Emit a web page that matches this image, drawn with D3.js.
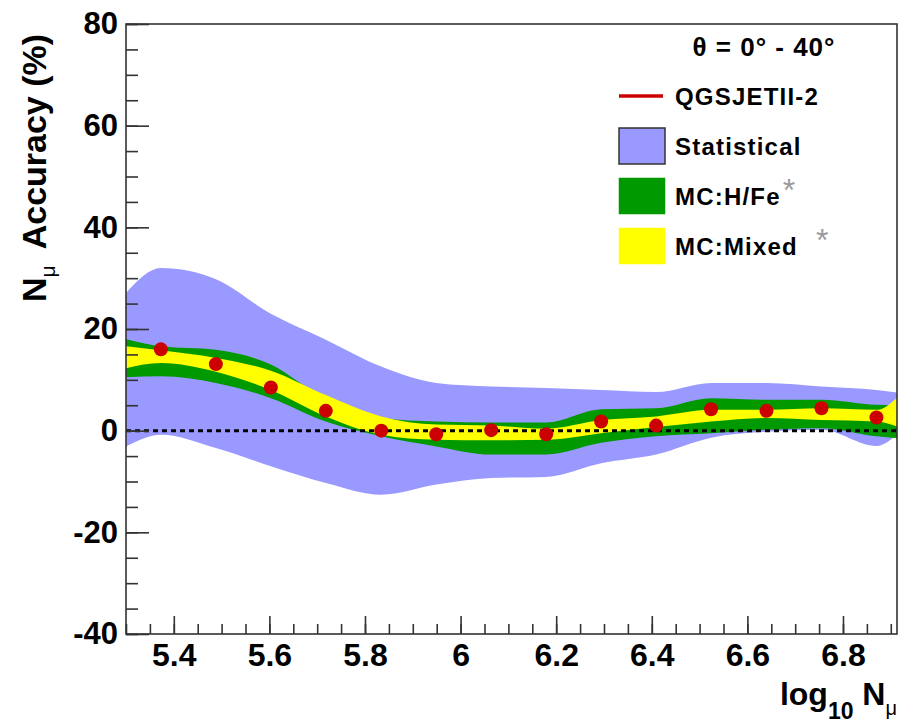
<!DOCTYPE html>
<html>
<head>
<meta charset="utf-8">
<script src="https://cdn.jsdelivr.net/npm/d3@7.9.0/dist/d3.min.js"></script>
<style>
  body { margin: 0; background: #fff; }
  svg { display: block; font-family: "Liberation Sans", Arial, sans-serif; font-weight: bold; }
</style>
</head>
<body>
<svg id="chart" width="898" height="727"></svg>
<script>
// log10 N_mu bin centres of the QGSJETII-2 points
const binX = [5.373, 5.488, 5.603, 5.718, 5.834, 5.949, 6.064, 6.179, 6.294, 6.409, 6.524, 6.640, 6.755, 6.870];
const accuracy = [16.0, 13.1, 8.5, 3.9, 0.0, -0.7, 0.1, -0.7, 1.8, 1.0, 4.2, 3.9, 4.4, 2.6];

// band nodes: plot edges plus the bin centres
const bandX = [5.3, 5.373, 5.488, 5.603, 5.718, 5.834, 5.949, 6.064, 6.179, 6.294, 6.409, 6.524, 6.640, 6.755, 6.870, 6.913];
const statHigh = [27.1, 32.0, 29.8, 23.0, 17.9, 12.6, 9.4, 8.7, 8.4, 8.0, 7.6, 9.4, 9.4, 8.7, 8.0, 7.5];
const statLow = [-3.1, -0.8, -3.4, -7.0, -10.3, -12.6, -10.6, -9.3, -9.1, -6.4, -4.7, -1.4, -0.2, 0.2, -3.0, -0.8];
const hfeHigh = [18.0, 16.6, 15.9, 13.0, 6.1, 2.5, 1.8, 1.6, 1.6, 4.2, 4.4, 6.4, 6.1, 6.1, 5.1, 5.0];
const hfeLow = [10.5, 10.7, 9.4, 6.4, 1.8, -1.1, -3.1, -4.7, -4.7, -2.4, -1.1, -0.5, 0.2, 0.5, -1.1, -1.5];
const mixHigh = [16.6, 15.8, 14.3, 11.8, 7.0, 2.8, 1.2, 1.0, 0.4, 2.1, 2.8, 4.1, 4.1, 4.4, 4.1, 6.5];
const mixLow = [12.3, 13.3, 11.6, 8.0, 2.8, -0.8, -1.8, -1.9, -1.8, -0.5, 0.7, 1.8, 2.5, 2.1, 1.8, 0.8];

const xMajor = [5.4, 5.6, 5.8, 6.0, 6.2, 6.4, 6.6, 6.8];
const yMajor = [-40, -20, 0, 20, 40, 60, 80];

const legendItems = [
  { label: 'QGSJETII-2', kind: 'line', color: '#cc0000' },
  { label: 'Statistical', kind: 'box', color: '#9999ff', stroke: '#333' },
  { label: 'MC:H/Fe', kind: 'box', color: '#009900', star: 2 },
  { label: 'MC:Mixed', kind: 'box', color: '#ffff00', star: 18 }
];

const svg = d3.select('#chart');
const plot = { left: 126, right: 897, top: 24, bottom: 634 };

const x = d3.scaleLinear().domain([5.3, 6.913]).range([plot.left, plot.right]);
const y = d3.scaleLinear().domain([-40, 80]).range([plot.bottom, plot.top]);

function band(high, low, color) {
  const pts = bandX.map((v, i) => ({ x: v, hi: high[i], lo: low[i] }));
  const area = d3.area()
    .x((d) => x(d.x))
    .y0((d) => y(d.lo))
    .y1((d) => y(d.hi))
    .curve(d3.curveMonotoneX);
  svg.append('path').attr('d', area(pts)).attr('fill', color);
}

band(statHigh, statLow, '#9999ff');
band(hfeHigh, hfeLow, '#009900');
band(mixHigh, mixLow, '#ffff00');

// zero reference
svg.append('line')
  .attr('x1', x(5.3)).attr('x2', x(6.913))
  .attr('y1', y(0)).attr('y2', y(0))
  .attr('stroke', '#000')
  .attr('stroke-width', 3)
  .attr('stroke-dasharray', '5,4');

svg.append('g')
  .selectAll('circle')
  .data(binX)
  .join('circle')
  .attr('cx', (d) => x(d))
  .attr('cy', (d, i) => y(accuracy[i]))
  .attr('r', 7)
  .attr('fill', '#cc0000');

// frame
svg.append('rect')
  .attr('x', plot.left).attr('y', plot.top)
  .attr('width', plot.right - plot.left).attr('height', plot.bottom - plot.top)
  .attr('fill', 'none')
  .attr('stroke', '#333')
  .attr('stroke-width', 1.6);

// minor ticks
svg.append('g')
  .attr('transform', `translate(${plot.left},0)`)
  .call(d3.axisLeft(y).tickValues(d3.range(-40, 81, 5)).tickSize(-12).tickFormat(''))
  .call((g) => g.select('.domain').remove());
svg.append('g')
  .attr('transform', `translate(0,${plot.bottom})`)
  .call(d3.axisBottom(x).tickValues(d3.range(5.3, 6.92, 0.05)).tickSize(-10).tickFormat(''))
  .call((g) => g.select('.domain').remove());

// major ticks with labels
const yAxis = svg.append('g')
  .attr('transform', `translate(${plot.left},0)`)
  .call(d3.axisLeft(y).tickValues(yMajor).tickSize(-23).tickPadding(8).tickFormat((d) => String(d)));
yAxis.select('.domain').remove();
yAxis.selectAll('text').attr('font-size', 31).attr('font-family', null).attr('fill', '#000');

const xAxis = svg.append('g')
  .attr('transform', `translate(0,${plot.bottom})`)
  .call(d3.axisBottom(x).tickValues(xMajor).tickSize(-18).tickPadding(9).tickFormat((d) => d === 6 ? '6' : d.toFixed(1)));
xAxis.select('.domain').remove();
xAxis.selectAll('text').attr('font-size', 32).attr('font-family', null).attr('fill', '#000');

svg.selectAll('.tick line').attr('stroke', '#333').attr('stroke-width', 1.6);

// axis titles
const xTitle = svg.append('text')
  .attr('x', 897).attr('y', 705)
  .attr('text-anchor', 'end')
  .attr('font-size', 32);
xTitle.append('tspan').text('log');
xTitle.append('tspan').attr('font-size', 23).attr('dy', 14).text('10');
xTitle.append('tspan').attr('dy', -14).text(' N');
xTitle.append('tspan').attr('font-size', 20).attr('font-weight', 'normal').attr('dy', 10).text('μ');

const yTitle = svg.append('text')
  .attr('transform', 'translate(46,302) rotate(-90)')
  .attr('font-size', 34);
yTitle.append('tspan').text('N');
yTitle.append('tspan').attr('font-size', 21).attr('font-weight', 'normal').attr('dy', 9).text('μ');
yTitle.append('tspan').attr('dy', -9).attr('dx', 16).text('Accuracy (%)');

// legend
svg.append('text')
  .attr('x', 764).attr('y', 56)
  .attr('text-anchor', 'middle')
  .attr('font-size', 26)
  .attr('letter-spacing', 1)
  .text('θ = 0° - 40°');

const legend = svg.append('g');
legendItems.forEach((d, i) => {
  const cy = 96 + i * 50;
  if (d.kind === 'line') {
    legend.append('line')
      .attr('x1', 619).attr('x2', 663)
      .attr('y1', cy).attr('y2', cy)
      .attr('stroke', d.color).attr('stroke-width', 3.5);
  } else {
    legend.append('rect')
      .attr('x', 619).attr('y', cy - 18)
      .attr('width', 46).attr('height', 36)
      .attr('fill', d.color)
      .attr('stroke', d.stroke || d.color)
      .attr('stroke-width', d.stroke ? 1.5 : 0.5);
  }
  const t = legend.append('text')
    .attr('x', 675).attr('y', cy + 9)
    .attr('font-size', 24)
    .attr('letter-spacing', 1.2)
    .text(d.label);
  if (d.star !== undefined) {
    t.append('tspan')
      .attr('dx', d.star).attr('dy', -4)
      .attr('fill', '#999')
      .attr('font-size', 32)
      .attr('font-weight', 'normal')
      .text('*');
  }
});
</script>
</body>
</html>
